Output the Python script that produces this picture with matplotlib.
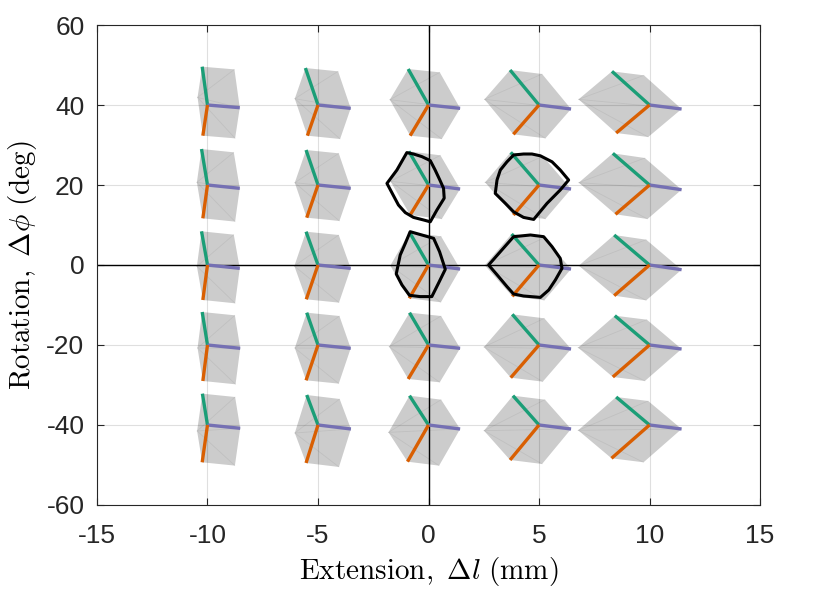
import matplotlib
matplotlib.use("Agg")
import matplotlib.pyplot as plt
from matplotlib.patches import Polygon
import numpy as np

plt.rcParams['font.family'] = ['Liberation Sans', 'DejaVu Sans']
plt.rcParams['mathtext.fontset'] = 'cm'
plt.rcParams['axes.unicode_minus'] = False

# glyph centres (extension in mm, rotation in deg)
ext_centers = [-10, -5, 0, 5, 10]
rot_centers = [40, 20, 0, -20, -40]

# vector tips relative to each centre, rows follow rot_centers, columns ext_centers
green_dx = [[-0.24, -0.57, -0.92, -1.31, -1.70],
            [-0.27, -0.54, -0.89, -1.28, -1.66],
            [-0.27, -0.54, -0.86, -1.24, -1.60],
            [-0.24, -0.51, -0.86, -1.21, -1.57],
            [-0.23, -0.51, -0.86, -1.18, -1.51]]
green_dy = [[9.58, 9.25, 9.00, 8.75, 8.42],
            [9.00, 8.75, 8.42, 8.17, 7.92],
            [8.42, 8.33, 8.17, 7.75, 7.50],
            [8.25, 8.08, 8.08, 7.67, 7.33],
            [7.83, 7.50, 7.33, 7.33, 7.00]]
purple_dx = [[1.46, 1.48, 1.43, 1.45, 1.45],
             [1.46, 1.48, 1.43, 1.45, 1.45],
             [1.46, 1.48, 1.43, 1.45, 1.45],
             [1.48, 1.48, 1.43, 1.45, 1.45],
             [1.48, 1.49, 1.43, 1.45, 1.45]]
purple_dy = [[-0.67, -0.83, -0.83, -1.00, -1.00],
             [-0.83, -0.83, -1.00, -1.00, -1.17],
             [-0.83, -0.83, -1.00, -1.00, -1.17],
             [-0.83, -0.83, -0.83, -1.00, -1.00],
             [-0.83, -1.00, -1.00, -1.00, -1.00]]
orange_dx = [[-0.21, -0.48, -0.83, -1.16, -1.51],
             [-0.21, -0.51, -0.83, -1.16, -1.54],
             [-0.21, -0.53, -0.87, -1.21, -1.60],
             [-0.21, -0.54, -0.92, -1.28, -1.66],
             [-0.24, -0.54, -0.95, -1.31, -1.72]]
orange_dy = [[-7.67, -7.67, -7.67, -7.33, -7.00],
             [-8.33, -8.17, -7.50, -7.50, -7.33],
             [-8.75, -8.58, -8.33, -7.83, -7.67],
             [-9.00, -8.83, -8.50, -8.17, -8.00],
             [-9.33, -9.50, -9.17, -8.75, -8.33]]

# measured outlines (black)
outline_a_x = [-0.98, -0.68, -0.30, 0.08, 0.30, 0.50, 0.68, 0.71, 0.38, 0.08,
               -0.22, -0.68, -1.05, -1.36, -1.88, -1.43]
outline_a_y = [28.1, 27.75, 27.1, 26.1, 23.75, 21.4, 19.2, 16.7, 13.75, 10.8,
               11.25, 11.9, 13.1, 15.0, 20.4, 23.75]
outline_b_x = [-0.83, -0.30, 0.23, 0.50, 0.76, 0.45, 0.15, -0.38, -0.86, -1.20,
               -1.46, -1.28, -1.05]
outline_b_y = [8.33, 7.5, 6.67, 3.33, -1.08, -4.58, -7.9, -7.9, -7.58, -5.0,
               -2.25, 2.5, 5.4]
outline_c_x = [3.85, 4.30, 4.68, 5.06, 5.59, 5.96, 6.34, 5.96, 5.36, 4.76,
               4.30, 3.85, 3.48, 3.02, 3.10, 3.25, 3.55]
outline_c_y = [27.5, 27.75, 27.75, 27.3, 25.8, 23.75, 21.25, 18.75, 15.4, 11.4,
               11.9, 13.3, 15.4, 17.9, 21.25, 23.75, 25.8]
outline_d_x = [3.85, 4.61, 5.21, 5.59, 5.96, 6.04, 5.74, 5.44, 5.06, 4.30,
               3.85, 3.55, 3.17, 2.72, 3.25]
outline_d_y = [7.08, 7.5, 7.08, 4.58, 1.67, -0.83, -3.75, -6.25, -8.1, -7.75,
               -7.25, -5.4, -2.9, 0.0, 3.33]

c_green = '#1b9e77'
c_purple = '#7570b3'
c_orange = '#d95f02'

fig = plt.figure(figsize=(8.31, 5.90), dpi=100)
ax = fig.add_axes([0.1167, 0.1441, 0.7979, 0.8135])

ax.axhline(0, color='k', lw=1.0, zorder=1.5)
ax.axvline(0, color='k', lw=1.0, zorder=1.5)

for i, yc in enumerate(rot_centers):
    for j, xc in enumerate(ext_centers):
        a = np.array([green_dx[i][j], green_dy[i][j]])
        b = np.array([purple_dx[i][j], purple_dy[i][j]])
        c = np.array([orange_dx[i][j], orange_dy[i][j]])
        o = np.array([xc, yc])
        hexagon = [o + a, o + a + b, o + b, o + b + c, o + c, o + a + c]
        ax.add_patch(Polygon(hexagon, closed=True, facecolor='k', alpha=0.2,
                             edgecolor='none', zorder=2))
        # faint face seams
        for v in (o + a + b, o + b, o + b + c):
            ax.plot([o[0] + a[0] + c[0], v[0]], [o[1] + a[1] + c[1], v[1]],
                    color='k', alpha=0.06, lw=0.6, zorder=2.1)
        for vec, col in ((a, c_green), (b, c_purple), (c, c_orange)):
            ax.plot([xc, xc + vec[0]], [yc, yc + vec[1]], color=col, lw=2.4,
                    solid_capstyle='butt', zorder=3)

for ox, oy in ((outline_a_x, outline_a_y), (outline_b_x, outline_b_y),
               (outline_c_x, outline_c_y), (outline_d_x, outline_d_y)):
    ax.add_patch(Polygon(list(zip(ox, oy)), closed=True, fill=False,
                         edgecolor='k', lw=2.2, joinstyle='round', zorder=4))

ax.set_xlim(-15, 15)
ax.set_ylim(-60, 60)
ax.set_xticks([-15, -10, -5, 0, 5, 10, 15])
ax.set_yticks([-60, -40, -20, 0, 20, 40, 60])
ax.grid(True, color='#dfdfdf', lw=0.8, zorder=0)
ax.set_axisbelow(True)
ax.tick_params(direction='in', length=5, width=0.8, colors='#262626',
               labelsize=19, top=True, right=True)
ax.tick_params(axis='x', pad=14)
ax.tick_params(axis='y', pad=9)
for s in ax.spines.values():
    s.set_color('#262626')
    s.set_linewidth(0.8)

ax.set_xlabel(r'$\mathrm{Extension,}\ \Delta l\ \mathrm{(mm)}$', fontsize=21,
              labelpad=5)
ax.set_ylabel(r'$\mathrm{Rotation,}\ \Delta \phi\ \mathrm{(deg)}$', fontsize=21,
              labelpad=5)

fig.savefig('out.png', dpi=100)
